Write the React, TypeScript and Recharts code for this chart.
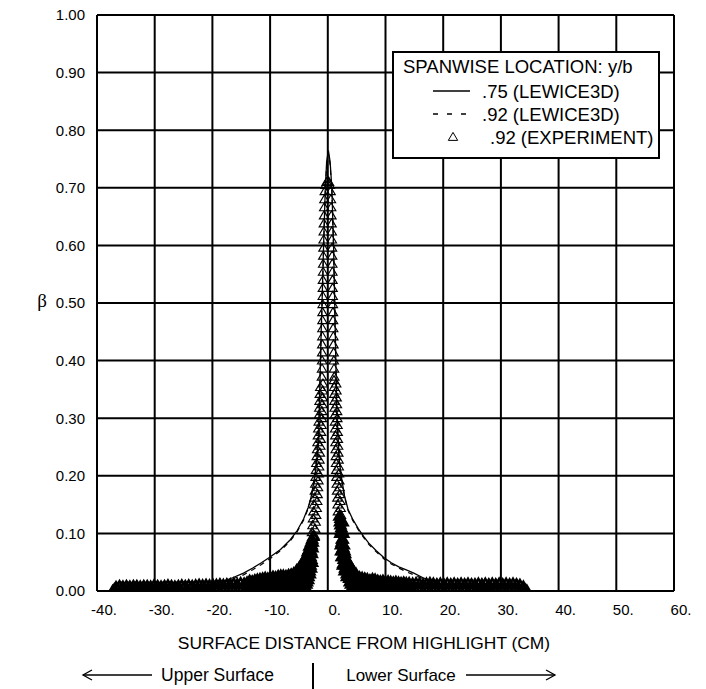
import React from 'react';
import { ComposedChart, Line, Scatter, XAxis, YAxis, CartesianGrid, Customized } from 'recharts';

// ---- axis ticks ----
const xTicks = [-40, -30, -20, -10, 0, 10, 20, 30, 40, 50, 60];
const yTicks = [0, 0.1, 0.2, 0.3, 0.4, 0.5, 0.6, 0.7, 0.8, 0.9, 1.0];

// ---- LEWICE3D y/b = .75 (solid) ----
const lewice75: [number, number][] = [
  [-37, 0.0005], [-32, 0.001], [-28, 0.002], [-25, 0.004], [-22, 0.008], [-20, 0.011], [-18.4, 0.016],
  [-16.5, 0.023], [-14.6, 0.031], [-13, 0.040], [-11.5, 0.049], [-10, 0.059], [-8.2, 0.072], [-6.5, 0.089],
  [-5.3, 0.105], [-4.2, 0.125], [-3.4, 0.145], [-2.9, 0.163], [-2.5, 0.185], [-2.1, 0.21], [-1.8, 0.24],
  [-1.6, 0.27], [-1.45, 0.32], [-1.3, 0.39], [-1.15, 0.45], [-1.0, 0.50], [-0.73, 0.60], [-0.43, 0.70],
  [-0.2, 0.745], [0.1, 0.765], [0.4, 0.745], [0.7, 0.70], [1.0, 0.60], [1.2, 0.50], [1.35, 0.42],
  [1.55, 0.32], [1.75, 0.27], [2.0, 0.225], [2.4, 0.195], [2.9, 0.165], [3.5, 0.142], [4.3, 0.125],
  [5.3, 0.108], [6.2, 0.095], [7.1, 0.083], [8.4, 0.070], [9.7, 0.058], [11, 0.049], [12.3, 0.042],
  [13.5, 0.037], [14.9, 0.031], [16.5, 0.023], [18.4, 0.016], [20, 0.012], [22, 0.008], [25, 0.004],
  [29, 0.002], [33, 0.001],
];

// ---- LEWICE3D y/b = .92 (dashed) ----
const lewice92: [number, number][] = [
  [-37, 0.0004], [-32, 0.0008], [-28, 0.0015], [-25, 0.003], [-22, 0.007], [-20, 0.010], [-18.4, 0.014],
  [-16.5, 0.021], [-14.6, 0.028], [-13, 0.037], [-11.5, 0.046], [-10, 0.056], [-8.2, 0.070], [-6.5, 0.087],
  [-5.3, 0.103], [-4.2, 0.123], [-3.4, 0.143], [-2.9, 0.161], [-2.5, 0.183], [-2.1, 0.208], [-1.8, 0.238],
  [-1.6, 0.268], [-1.45, 0.318], [-1.3, 0.385], [-1.15, 0.445], [-1.0, 0.495], [-0.73, 0.595], [-0.43, 0.695],
  [-0.2, 0.74], [0.1, 0.76], [0.4, 0.74], [0.7, 0.695], [1.0, 0.595], [1.2, 0.495], [1.35, 0.415],
  [1.55, 0.318], [1.75, 0.268], [2.0, 0.223], [2.4, 0.193], [2.9, 0.163], [3.5, 0.140], [4.3, 0.123],
  [5.3, 0.106], [6.2, 0.093], [7.1, 0.081], [8.4, 0.068], [9.7, 0.056], [11, 0.047], [12.3, 0.040],
  [13.5, 0.034], [14.9, 0.028], [16.5, 0.021], [18.4, 0.014], [20, 0.010], [22, 0.007], [25, 0.003],
  [29, 0.0015], [33, 0.0008],
];

// ---- Experiment y/b = .92 (triangles) ----
const expLeftFar: [number, number][] = [
  [-37.3, 0.000], [-37.0, 0.003], [-36.7, 0.007], [-36.4, 0.004], [-36.1, 0.009], [-35.8, 0.005], [-35.5, 0.008], [-35.2, 0.004], [-34.9, 0.009], [-34.6, 0.005],
  [-34.3, 0.008], [-34.0, 0.004], [-33.7, 0.009], [-33.4, 0.005], [-33.1, 0.009], [-32.8, 0.004], [-32.5, 0.008], [-32.2, 0.005], [-31.9, 0.009], [-31.6, 0.004],
  [-31.3, 0.009], [-31.0, 0.005], [-30.7, 0.008], [-30.4, 0.004], [-30.1, 0.010], [-29.8, 0.005], [-29.5, 0.009], [-29.2, 0.004], [-28.9, 0.008], [-28.6, 0.005],
  [-28.3, 0.009], [-28.0, 0.004], [-27.7, 0.010], [-27.4, 0.005], [-27.1, 0.009], [-26.8, 0.004], [-26.5, 0.008], [-26.2, 0.005], [-25.9, 0.009], [-25.6, 0.004],
  [-25.3, 0.010], [-25.0, 0.005], [-24.7, 0.009], [-24.4, 0.004], [-24.1, 0.010], [-23.8, 0.005], [-23.5, 0.009], [-23.2, 0.004], [-22.9, 0.010], [-22.6, 0.005],
  [-22.3, 0.011], [-22.0, 0.004], [-21.7, 0.010], [-21.4, 0.005], [-21.1, 0.011], [-20.8, 0.004], [-20.5, 0.010], [-20.2, 0.005], [-19.9, 0.011], [-19.6, 0.004],
  [-19.3, 0.011], [-19.0, 0.005], [-18.7, 0.012], [-18.4, 0.004], [-18.1, 0.011], [-17.8, 0.005], [-17.5, 0.012], [-17.2, 0.004], [-16.9, 0.012], [-16.6, 0.005],
  [-16.3, 0.013], [-16.0, 0.004], [-15.7, 0.012], [-15.4, 0.005], [-15.1, 0.014], [-14.8, 0.004], [-14.5, 0.013], [-14.2, 0.005],
];

const expLeftNear: [number, number][] = [
  [-14.0, 0.015], [-13.85, 0.005], [-13.7, 0.010], [-13.55, 0.018], [-13.4, 0.004], [-13.25, 0.011],
  [-13.1, 0.017], [-12.95, 0.005], [-12.8, 0.012], [-12.65, 0.019], [-12.5, 0.004], [-12.35, 0.012],
  [-12.2, 0.020], [-12.05, 0.005], [-11.9, 0.013], [-11.75, 0.021], [-11.6, 0.004], [-11.45, 0.013],
  [-11.3, 0.022], [-11.15, 0.005], [-11.0, 0.014], [-10.85, 0.023], [-10.7, 0.004], [-10.55, 0.014],
  [-10.4, 0.022], [-10.25, 0.005], [-10.1, 0.014], [-9.95, 0.024], [-9.8, 0.004], [-9.65, 0.015],
  [-9.5, 0.025], [-9.35, 0.005], [-9.2, 0.015], [-9.05, 0.024], [-8.9, 0.004], [-8.75, 0.015],
  [-8.6, 0.026], [-8.45, 0.005], [-8.3, 0.016], [-8.15, 0.027], [-8.0, 0.004], [-7.85, 0.016],
  [-7.7, 0.027], [-7.55, 0.005], [-7.4, 0.017], [-7.25, 0.026], [-7.1, 0.004], [-6.95, 0.017],
  [-6.8, 0.028], [-6.65, 0.005], [-6.5, 0.018], [-6.35, 0.029], [-6.2, 0.004], [-6.05, 0.018],
  [-5.9, 0.031], [-5.75, 0.005], [-5.6, 0.020], [-5.45, 0.033], [-5.3, 0.006], [-5.15, 0.022],
  [-5.0, 0.037], [-4.85, 0.006], [-4.7, 0.024], [-4.55, 0.042], [-4.4, 0.007], [-4.25, 0.030],
];

const expLeftBlob: [number, number][] = [
  [-2.6, 0.085], [-2.65, 0.075], [-2.75, 0.065], [-2.85, 0.055], [-3.0, 0.045], [-3.15, 0.035], [-3.35, 0.025], [-3.6, 0.016], [-3.9, 0.008], [-4.2, 0.003],
  [-3.0, 0.080], [-3.1, 0.070], [-3.25, 0.060], [-3.4, 0.050], [-3.6, 0.040], [-3.9, 0.032], [-4.3, 0.022], [-4.7, 0.012], [-5.2, 0.004],
  [-2.8, 0.080], [-2.9, 0.070], [-3.0, 0.060], [-3.15, 0.050], [-3.3, 0.040], [-3.5, 0.030], [-3.8, 0.022], [-4.1, 0.014], [-4.5, 0.006],
  [-4.1, 0.050], [-3.8, 0.055], [-3.5, 0.062], [-3.3, 0.072],
  [-2.5, 0.095], [-2.7, 0.090], [-2.9, 0.085], [-3.2, 0.078], [-3.5, 0.068], [-3.8, 0.060], [-4.2, 0.052], [-4.6, 0.046], [-5.0, 0.040], [-5.4, 0.036],
  [-2.7, 0.050], [-2.9, 0.040], [-3.1, 0.030], [-3.4, 0.020], [-3.7, 0.012], [-4.0, 0.006],
  [-4.0, 0.040], [-4.4, 0.030], [-4.8, 0.020], [-5.2, 0.012], [-5.6, 0.006],
  [-4.4, 0.045], [-4.8, 0.035], [-5.2, 0.026], [-5.6, 0.018], [-6.0, 0.010],
];

const expLeftMid: [number, number][] = [
  [-2.82, 0.090], [-2.28, 0.096], [-2.74, 0.102], [-2.19, 0.108], [-2.65, 0.114], [-2.11, 0.120], [-2.56, 0.126], [-2.02, 0.132],
  [-2.48, 0.138], [-1.93, 0.144], [-2.40, 0.150], [-1.84, 0.156], [-2.31, 0.162], [-1.77, 0.168], [-2.23, 0.174], [-1.70, 0.180],
  [-2.17, 0.186], [-1.64, 0.192], [-2.11, 0.198], [-1.58, 0.204], [-2.04, 0.210], [-1.51, 0.216], [-1.98, 0.222], [-1.45, 0.228],
  [-1.91, 0.234], [-1.38, 0.240], [-1.84, 0.246], [-1.31, 0.252], [-1.77, 0.258], [-1.24, 0.264], [-1.71, 0.270], [-1.17, 0.276],
  [-1.64, 0.282], [-1.10, 0.288], [-1.57, 0.294], [-1.04, 0.300], [-1.52, 0.306], [-1.00, 0.312], [-1.47, 0.318], [-0.95, 0.324],
  [-1.42, 0.330], [-0.90, 0.336], [-1.38, 0.342], [-0.86, 0.348], [-1.30, 0.354], [-0.84, 0.360],
];

const expLeftUpper: [number, number][] = [
  [-1.02, 0.372], [-1.0, 0.386], [-0.98, 0.400], [-0.97, 0.414], [-0.96, 0.428], [-0.94, 0.442], [-0.93, 0.456], [-0.92, 0.470],
  [-0.91, 0.484], [-0.89, 0.498], [-0.87, 0.512], [-0.85, 0.526], [-0.84, 0.540], [-0.82, 0.554], [-0.80, 0.568], [-0.78, 0.582],
  [-0.75, 0.596], [-0.72, 0.610], [-0.70, 0.624], [-0.68, 0.638], [-0.65, 0.652], [-0.62, 0.666], [-0.58, 0.680], [-0.52, 0.694],
  [-0.40, 0.705], [-0.2, 0.710], [0.0, 0.712],
];

const expRightUpper: [number, number][] = [
  [1.12, 0.372], [1.08, 0.386], [1.04, 0.400], [1.01, 0.414], [0.98, 0.428], [0.96, 0.442], [0.93, 0.456], [0.91, 0.470],
  [0.89, 0.484], [0.87, 0.498], [0.85, 0.512], [0.83, 0.526], [0.81, 0.540], [0.79, 0.554], [0.77, 0.568], [0.75, 0.582],
  [0.73, 0.596], [0.70, 0.610], [0.68, 0.624], [0.65, 0.638], [0.62, 0.652], [0.58, 0.666], [0.54, 0.680], [0.48, 0.694],
  [0.35, 0.705], [0.2, 0.710],
];

const expRightMid: [number, number][] = [
  [2.28, 0.132], [1.76, 0.138], [2.22, 0.144], [1.71, 0.150], [2.16, 0.156], [1.66, 0.162], [2.10, 0.168], [1.61, 0.174],
  [2.04, 0.180], [1.56, 0.186], [1.99, 0.192], [1.51, 0.198], [1.94, 0.204], [1.47, 0.210], [1.90, 0.216], [1.43, 0.222],
  [1.86, 0.228], [1.40, 0.234], [1.82, 0.240], [1.37, 0.246], [1.78, 0.252], [1.34, 0.258], [1.74, 0.264], [1.31, 0.270],
  [1.71, 0.276], [1.28, 0.282], [1.68, 0.288], [1.25, 0.294], [1.65, 0.300], [1.22, 0.306], [1.61, 0.312], [1.19, 0.318],
  [1.57, 0.324], [1.16, 0.330], [1.53, 0.336], [1.13, 0.342], [1.49, 0.348], [1.10, 0.354], [1.45, 0.360], [1.07, 0.366],
];

const expRightBlob: [number, number][] = [
  [2.1, 0.120], [2.15, 0.100], [2.25, 0.080], [2.4, 0.060], [2.6, 0.045], [2.9, 0.035], [3.3, 0.025], [3.8, 0.016], [4.3, 0.009], [4.8, 0.004],
  [2.6, 0.120], [2.7, 0.100], [2.8, 0.080], [3.0, 0.065], [3.3, 0.052], [3.6, 0.043], [4.0, 0.035], [4.5, 0.028], [5.0, 0.025], [5.5, 0.024],
  [2.35, 0.110], [2.45, 0.090], [2.55, 0.070], [2.75, 0.055], [3.0, 0.045], [3.4, 0.035], [3.8, 0.027], [4.3, 0.018], [4.8, 0.012], [5.3, 0.006],
  [2.2, 0.126], [2.3, 0.105], [2.4, 0.085], [2.6, 0.075], [2.9, 0.060], [3.2, 0.040], [3.6, 0.032],
  [2.0, 0.130], [2.2, 0.115], [2.5, 0.105], [2.6, 0.090], [2.7, 0.075], [2.9, 0.070], [3.1, 0.058], [3.4, 0.048], [3.7, 0.038], [4.1, 0.030], [4.6, 0.022], [5.1, 0.016], [5.6, 0.010],
  [2.3, 0.070], [2.5, 0.060], [2.7, 0.048], [3.0, 0.040], [3.3, 0.030], [3.7, 0.022], [4.0, 0.012], [4.5, 0.006],
  [3.6, 0.050], [4.0, 0.042], [4.4, 0.036], [4.9, 0.030], [5.3, 0.020], [5.8, 0.012],
];

const expRightNear: [number, number][] = [
  [5.65, 0.004], [5.8, 0.014], [5.95, 0.023], [6.1, 0.005], [6.25, 0.013], [6.4, 0.022], [6.55, 0.004], [6.7, 0.013],
  [6.85, 0.021], [7.0, 0.005], [7.15, 0.012], [7.3, 0.019], [7.45, 0.004], [7.6, 0.012], [7.75, 0.021], [7.9, 0.005],
  [8.05, 0.013], [8.2, 0.020], [8.35, 0.004], [8.5, 0.012], [8.65, 0.018], [8.8, 0.005], [8.95, 0.011], [9.1, 0.017],
  [9.25, 0.004], [9.4, 0.011], [9.55, 0.018], [9.7, 0.005], [9.85, 0.011], [10.0, 0.016], [10.15, 0.004], [10.3, 0.010],
  [10.45, 0.017], [10.6, 0.005], [10.75, 0.011], [10.9, 0.016], [11.05, 0.004], [11.2, 0.010], [11.35, 0.015], [11.5, 0.005],
  [11.65, 0.010], [11.8, 0.016], [11.95, 0.004], [12.1, 0.010], [12.25, 0.015], [12.4, 0.005], [12.55, 0.010], [12.7, 0.014],
  [12.85, 0.004], [13.0, 0.009], [13.15, 0.015], [13.3, 0.005], [13.45, 0.010], [13.6, 0.014], [13.75, 0.004], [13.9, 0.009],
];

const expRightFar: [number, number][] = [
  [14.1, 0.014], [14.4, 0.004], [14.7, 0.013], [15.0, 0.005], [15.3, 0.014], [15.6, 0.004], [15.9, 0.013], [16.2, 0.005],
  [16.5, 0.012], [16.8, 0.004], [17.1, 0.013], [17.4, 0.005], [17.7, 0.014], [18.0, 0.004], [18.3, 0.013], [18.6, 0.005],
  [18.9, 0.012], [19.2, 0.004], [19.5, 0.013], [19.8, 0.005], [20.1, 0.012], [20.4, 0.004], [20.7, 0.013], [21.0, 0.005],
  [21.3, 0.012], [21.6, 0.004], [21.9, 0.013], [22.2, 0.005], [22.5, 0.012], [22.8, 0.004], [23.1, 0.013], [23.4, 0.005],
  [23.7, 0.012], [24.0, 0.004], [24.3, 0.013], [24.6, 0.005], [24.9, 0.012], [25.2, 0.004], [25.5, 0.012], [25.8, 0.005],
  [26.1, 0.013], [26.4, 0.004], [26.7, 0.012], [27.0, 0.005], [27.3, 0.013], [27.6, 0.004], [27.9, 0.012], [28.2, 0.005],
  [28.5, 0.013], [28.8, 0.004], [29.1, 0.012], [29.4, 0.005], [29.7, 0.013], [30.0, 0.004], [30.3, 0.012], [30.6, 0.005],
  [30.9, 0.013], [31.2, 0.004], [31.5, 0.012], [31.8, 0.005], [32.1, 0.013], [32.4, 0.004], [32.7, 0.012], [33.0, 0.004],
  [33.3, 0.011], [33.6, 0.003], [33.9, 0.008], [34.2, 0.002], [34.5, 0.001],
];

const toXY = (arr: [number, number][]) => arr.map(([x, y]) => ({ x, y }));
const solidData = toXY(lewice75);
const dashedData = toXY(lewice92);
// dense near-surface region of the experiment (points overlap into a solid band)
const expDenseData = toXY([
  ...expLeftFar, ...expLeftNear, ...expLeftBlob, ...expRightBlob, ...expRightNear, ...expRightFar,
]);
// impingement peak region of the experiment
const expPeakData = toXY([
  ...expLeftMid, ...expLeftUpper, ...expRightUpper, ...expRightMid,
]);

const FONT = '"Liberation Sans", Arial, Helvetica, sans-serif';

const triPath = (cx: number, cy: number) =>
  `M${cx},${cy - 4.6} L${cx + 4.7},${cy + 3.4} L${cx - 4.7},${cy + 3.4} Z`;

const TriangleThin = (props: any) => {
  const { cx, cy } = props;
  if (cx == null || cy == null) return null;
  return <path d={triPath(cx, cy)} fill="none" stroke="#000" strokeWidth={1.15} />;
};

const TriangleDense = (props: any) => {
  const { cx, cy } = props;
  if (cx == null || cy == null) return null;
  return <path d={triPath(cx, cy)} fill="none" stroke="#000" strokeWidth={2.6} />;
};

const Overlay = () => {
  const t = { fontFamily: FONT, fill: '#000' } as const;
  return (
    <g>
      {/* legend */}
      <rect x={393} y={52} width={266} height={106} fill="#fff" stroke="#000" strokeWidth={2} />
      <text x={403} y={66} fontSize={18.5} dominantBaseline="central" {...t}>SPANWISE LOCATION: y/b</text>
      <line x1={433} x2={470} y1={91} y2={91} stroke="#000" strokeWidth={1.5} />
      <text x={482} y={91} fontSize={18.5} dominantBaseline="central" {...t}>.75 (LEWICE3D)</text>
      <line x1={433} x2={470} y1={114} y2={114} stroke="#000" strokeWidth={1.5} strokeDasharray="5 9" />
      <text x={482} y={114} fontSize={18.5} dominantBaseline="central" {...t}>.92 (LEWICE3D)</text>
      <path d={triPath(453, 137)} fill="none" stroke="#000" strokeWidth={1} />
      <text x={490} y={137} fontSize={18.5} dominantBaseline="central" {...t}>.92 (EXPERIMENT)</text>

      {/* y label */}
      <text x={42} y={300} fontSize={19} textAnchor="middle" dominantBaseline="central"
        fontFamily='"Liberation Serif", "Times New Roman", serif' fill="#000">β</text>

      {/* x title */}
      <text x={364} y={643} fontSize={17.4} textAnchor="middle" dominantBaseline="central" {...t}>
        SURFACE DISTANCE FROM HIGHLIGHT (CM)
      </text>

      {/* surface arrows */}
      <line x1={83} x2={152} y1={675} y2={675} stroke="#000" strokeWidth={1.3} />
      <polyline points="92,670 83,675 92,680" fill="none" stroke="#000" strokeWidth={1.3} />
      <text x={217.5} y={675} fontSize={17.5} textAnchor="middle" dominantBaseline="central" {...t}>Upper Surface</text>
      <line x1={313} x2={313} y1={663} y2={689} stroke="#000" strokeWidth={2} />
      <text x={401} y={675} fontSize={17} textAnchor="middle" dominantBaseline="central" {...t}>Lower Surface</text>
      <line x1={466} x2={555} y1={675} y2={675} stroke="#000" strokeWidth={1.3} />
      <polyline points="546,670 555,675 546,680" fill="none" stroke="#000" strokeWidth={1.3} />
    </g>
  );
};

export default function App() {
  return (
    <div style={{ position: 'absolute', left: 0, top: 0, width: 706, height: 689, background: '#fff' }}>
      <ComposedChart
        width={706}
        height={689}
        margin={{ top: 15, right: 32, left: 37, bottom: 68 }}
      >
        <CartesianGrid stroke="#000" strokeWidth={2} />
        <XAxis
          dataKey="x"
          type="number"
          domain={[-40, 60]}
          ticks={xTicks}
          interval={0}
          height={30}
          tickLine={false}
          tickSize={0}
          tickMargin={13}
          axisLine={{ stroke: '#000', strokeWidth: 2 }}
          tickFormatter={(v: number) => `${v}.`}
          tick={{ fontSize: 15, fill: '#000', fontFamily: FONT, dx: 7 }}
          allowDataOverflow
        />
        <YAxis
          dataKey="y"
          type="number"
          domain={[0, 1]}
          ticks={yTicks}
          interval={0}
          width={60}
          tickLine={false}
          tickSize={0}
          tickMargin={12}
          axisLine={{ stroke: '#000', strokeWidth: 2 }}
          tickFormatter={(v: number) => v.toFixed(2)}
          tick={{ fontSize: 15, fill: '#000', fontFamily: FONT }}
          allowDataOverflow
        />
        <Scatter data={expDenseData} dataKey="y" shape={TriangleDense} isAnimationActive={false} />
        <Scatter data={expPeakData} dataKey="y" shape={TriangleThin} isAnimationActive={false} />
        <Line data={solidData} dataKey="y" type="linear" stroke="#000" strokeWidth={1.3} dot={false} isAnimationActive={false} />
        <Line data={dashedData} dataKey="y" type="linear" stroke="#000" strokeWidth={1.2} strokeDasharray="5 5" dot={false} isAnimationActive={false} />
        <Customized component={Overlay} />
      </ComposedChart>
    </div>
  );
}
